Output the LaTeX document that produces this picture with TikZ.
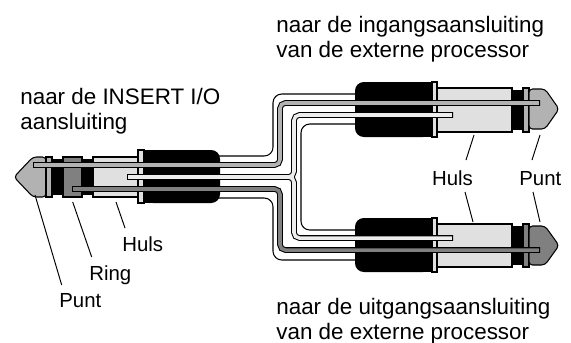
\documentclass[tikz,border=0pt]{standalone}
\usepackage{fontspec}
\setmainfont{Liberation Sans}
\usepackage{tikz}
\definecolor{tipgray}{gray}{0.70}
\definecolor{ringgray}{gray}{0.50}
\definecolor{sleevegray}{gray}{0.88}
\definecolor{wirelight}{gray}{0.93}
\tikzset{
	part/.style={draw=black,line width=0.6pt},
	jacket/.style={draw=black,fill=white,line width=0.6pt,rounded corners=5pt},
	wireout/.style={line width=3.2pt,draw=black,rounded corners=3pt},
	wirein/.style={line width=2pt,rounded corners=3pt,shorten <=0.6pt,shorten >=0.6pt},
	lead/.style={line width=0.55pt},
	lbl/.style={inner sep=0pt,anchor=base west,font=\fontsize{11.6}{13.5}\selectfont},
	note/.style={inner sep=0pt,anchor=north west,align=left,font=\fontsize{12.75}{14.2}\selectfont},
}
\begin{document}
\begin{tikzpicture}[x=0.02cm,y=-0.02cm]
	\useasboundingbox (0,0) rectangle (571,342);
	\draw[jacket](190,156)--(273,156)--(273,94)--(375,94)--(375,124)--(301,124)--(301,230)--(375,230)--(375,260)--(273,260)--(273,198)--(190,198)--cycle;
	\fill[black](46,159)rectangle(93,195);
	\draw[part,fill=tipgray,rounded corners=2pt](46,157)--(33,157)--(14,177)--(33,197)--(46,197)--cycle;
	\draw[part,fill=tipgray](46,157)rectangle(52,197);
	\draw[part,fill=ringgray](63,157)rectangle(82,197);
	\draw[part,fill=sleevegray](93,157)rectangle(138,197);
	\fill[black,rounded corners=5pt](144,150)rectangle(220,203);
	\fill[black](144,150)rectangle(190,203);
	\draw[part,fill=sleevegray](138,150)rectangle(144,203);
	\fill[black,rounded corners=5pt](355,82)rectangle(432,137);
	\fill[black](380,82)rectangle(432,137);
	\draw[part,fill=sleevegray](432,82)rectangle(437,137);
	\draw[part,fill=sleevegray](437,88)rectangle(512,132);
	\fill[black](512,90)rectangle(523,130);
	\draw[part,fill=tipgray](523,88)rectangle(529,132);
	\draw[part,fill=tipgray,rounded corners=2pt](529,89)--(545,89)--(559,109)--(545,129)--(529,129)--cycle;
	\fill[black,rounded corners=5pt](355,218)rectangle(432,272);
	\fill[black](380,218)rectangle(432,272);
	\draw[part,fill=sleevegray](432,218)rectangle(437,272);
	\draw[part,fill=sleevegray](437,224)rectangle(512,267);
	\fill[black](512,226)rectangle(523,265);
	\draw[part,fill=ringgray](523,224)rectangle(529,267);
	\draw[part,fill=ringgray,rounded corners=2pt](529,226)--(545,226)--(559,245.5)--(545,265)--(529,265)--cycle;
	\draw[wireout](33,165)--(280,165)--(280,103)--(540,103);
	\draw[wireout](72,189)--(280,189)--(280,250)--(540,250);
	\draw[wireout](127,177)--(294,177)--(294,115)--(453,115);
	\draw[wireout](127,177)--(294,177)--(294,238)--(453,238);
	\draw[wirein,tipgray](33,165)--(280,165)--(280,103)--(540,103);
	\draw[wirein,ringgray](72,189)--(280,189)--(280,250)--(540,250);
	\draw[wirein,wirelight](127,177)--(294,177)--(294,115)--(453,115);
	\draw[wirein,wirelight](127,177)--(294,177)--(294,238)--(453,238);
	\node[note](toInput)at(276,15.6){naar de ingangsaansluiting\\van de externe processor};
	\node[note](fromInsert)at(20,87.8){naar de INSERT I/O\\aansluiting};
	\node[note](toOutput)at(276,297.9){naar de uitgangsaansluiting\\van de externe processor};
	\node[lbl](hulsL)at(122,251.7){Huls};
	\node[lbl](ringL)at(89,280){Ring};
	\node[lbl](puntL)at(59,307.7){Punt};
	\node[lbl](hulsR)at(431.7,185){Huls};
	\node[lbl](puntR)at(519,185){Punt};
	\coordinate(hulsLa)at(116,202);
	\coordinate(hulsLb)at(125,228);
	\coordinate(ringLa)at(72.7,202);
	\coordinate(ringLb)at(91.7,257);
	\coordinate(puntLa)at(35,195);
	\coordinate(puntLb)at(61.7,285);
	\coordinate(hulsRa)at(474,135);
	\coordinate(hulsRb)at(466,160);
	\coordinate(hulsRc)at(465,192);
	\coordinate(hulsRd)at(473,222);
	\coordinate(puntRa)at(540,135);
	\coordinate(puntRb)at(532,160);
	\coordinate(puntRc)at(533,192);
	\coordinate(puntRd)at(540,222);
	\draw[lead](hulsLa)--(hulsLb);
	\draw[lead](ringLa)--(ringLb);
	\draw[lead](puntLa)--(puntLb);
	\draw[lead](hulsRa)--(hulsRb);
	\draw[lead](hulsRc)--(hulsRd);
	\draw[lead](puntRa)--(puntRb);
	\draw[lead](puntRc)--(puntRd);
\end{tikzpicture}
\end{document}
